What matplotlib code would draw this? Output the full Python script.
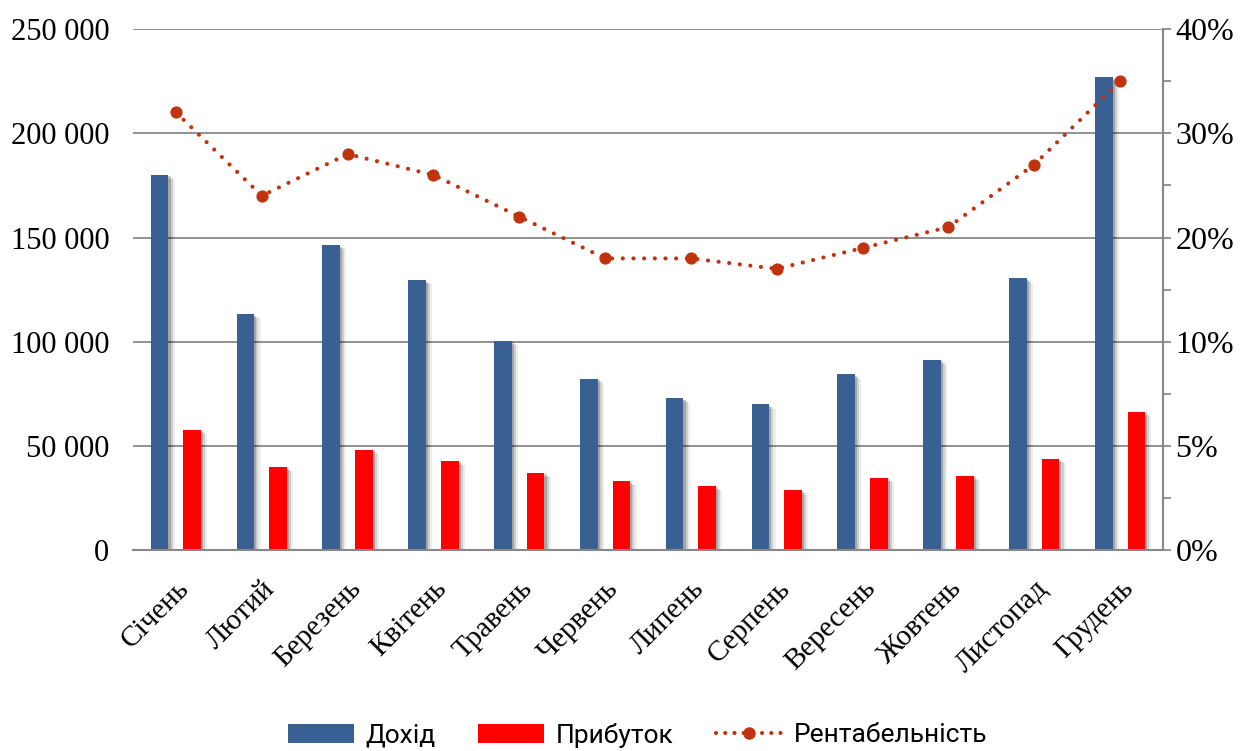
import matplotlib
matplotlib.use("Agg")
import matplotlib.pyplot as plt
import matplotlib.patheffects as pe
import numpy as np
from matplotlib.lines import Line2D
from matplotlib.patches import Patch
from matplotlib.ticker import FuncFormatter, FixedLocator

# ------------------------------------------------------------
# Дані
# ------------------------------------------------------------
months = ["Січень", "Лютий", "Березень", "Квітень", "Травень", "Червень",
          "Липень", "Серпень", "Вересень", "Жовтень", "Листопад", "Грудень"]
income = [180100, 113200, 146300, 129500, 100400, 82400,
          72900, 70000, 84400, 91300, 130400, 226800]
profit = [57900, 40000, 48300, 43000, 37100, 33300,
          30900, 28800, 34700, 35800, 43700, 66500]
margin = [32, 24, 28, 26, 22, 18, 18, 17, 19, 21, 27, 35]   # %

left_ticks = [0, 50000, 100000, 150000, 200000, 250000]
right_ticks = [0, 5, 10, 20, 30, 40]
right_minor = [2.5, 7.5, 15, 25, 35]

COLOR_INCOME = "#386092"
COLOR_PROFIT = "#FF0000"
COLOR_MARGIN = "#C0330F"
COLOR_GRID = "#888888"

SERIF = ["Liberation Serif", "DejaVu Serif"]


# права вісь: 0-5-10 на перших двох поділках, далі по 10 %
def fwd(v):
    v = np.asarray(v, dtype=float)
    return np.where(v <= 10, v / 5.0, 2.0 + (v - 10.0) / 10.0)


def inv(p):
    p = np.asarray(p, dtype=float)
    return np.where(p <= 2, p * 5.0, 10.0 + (p - 2.0) * 10.0)


def bar_shadow():
    return [pe.SimplePatchShadow(offset=(1.5, -1.0), shadow_rgbFace="#000000", alpha=0.2),
            pe.SimplePatchShadow(offset=(3.0, -2.0), shadow_rgbFace="#000000", alpha=0.13),
            pe.SimplePatchShadow(offset=(4.5, -3.0), shadow_rgbFace="#000000", alpha=0.07),
            pe.Normal()]


fig = plt.figure(figsize=(12.48, 7.51), dpi=100)
ax = fig.add_axes([0.1066, 0.267, 0.8253, 0.6945])

x = np.arange(len(months))
w = 0.206
off = 0.19

ax.set_axisbelow(True)
ax.yaxis.grid(True, color=COLOR_GRID, linewidth=1.3)
ax.bar(x - off, income, width=w, color=COLOR_INCOME, zorder=2, path_effects=bar_shadow())
ax.bar(x + off, profit, width=w, color=COLOR_PROFIT, zorder=2, path_effects=bar_shadow())

ax.set_xlim(-0.5, len(months) - 0.5)
ax.set_ylim(0, 250000)
ax.set_yticks(left_ticks)
ax.yaxis.set_major_formatter(FuncFormatter(lambda v, _: f"{int(v):,}".replace(",", " ")))
ax.tick_params(axis="y", length=0, pad=17, labelsize=22)
for lbl in ax.get_yticklabels():
    lbl.set_fontfamily(SERIF)

ax.set_xticks(x)
ax.set_xticklabels(months, rotation=45, ha="right", rotation_mode="anchor",
                   fontsize=21, family=SERIF)
ax.tick_params(axis="x", length=0, pad=18)

for side in ("left", "top", "right"):
    ax.spines[side].set_visible(False)
ax.spines["bottom"].set_color(COLOR_GRID)
ax.spines["bottom"].set_linewidth(1.5)

# рентабельність на правій осі
ax2 = ax.twinx()
ax2.set_yscale("function", functions=(fwd, inv))
ax2.set_ylim(0, 40)
ax2.yaxis.set_major_locator(FixedLocator(right_ticks))
ax2.yaxis.set_minor_locator(FixedLocator(right_minor))
ax2.yaxis.set_major_formatter(FuncFormatter(lambda v, _: f"{v:.0f}%"))
ax2.yaxis.set_minor_formatter(FuncFormatter(lambda v, _: ""))
ax2.tick_params(axis="y", which="both", direction="out", length=6, width=1.3,
                color=COLOR_GRID, pad=3, labelsize=23)
for lbl in ax2.get_yticklabels():
    lbl.set_fontfamily(SERIF)
for side in ("left", "top", "bottom"):
    ax2.spines[side].set_visible(False)
ax2.spines["right"].set_color(COLOR_GRID)
ax2.spines["right"].set_linewidth(1.5)

ax2.plot(x, margin, color=COLOR_MARGIN, linewidth=3.0,
         linestyle=(0, (0.01, 2.55)), dash_capstyle="round")
ax2.plot(x, margin, linestyle="none", marker="o", markersize=7.8,
         color=COLOR_MARGIN)

handles = [
    Patch(facecolor=COLOR_INCOME, edgecolor="none"),
    Patch(facecolor=COLOR_PROFIT, edgecolor="none"),
    Line2D([], [], color=COLOR_MARGIN, linewidth=3.0, linestyle=(0, (0.01, 2.2)),
           dash_capstyle="round", marker="o", markersize=8),
]
fig.legend(handles, ["Дохід", "Прибуток", "Рентабельність"],
           loc="center", bbox_to_anchor=(0.511, 1 - 735 / 751), ncol=3,
           frameon=False,
           prop={"family": ["Roboto", "DejaVu Sans"], "size": 19},
           handlelength=2.5, handleheight=0.7, handletextpad=0.45,
           columnspacing=1.6)

fig.savefig("out.png", dpi=100, facecolor="white")
